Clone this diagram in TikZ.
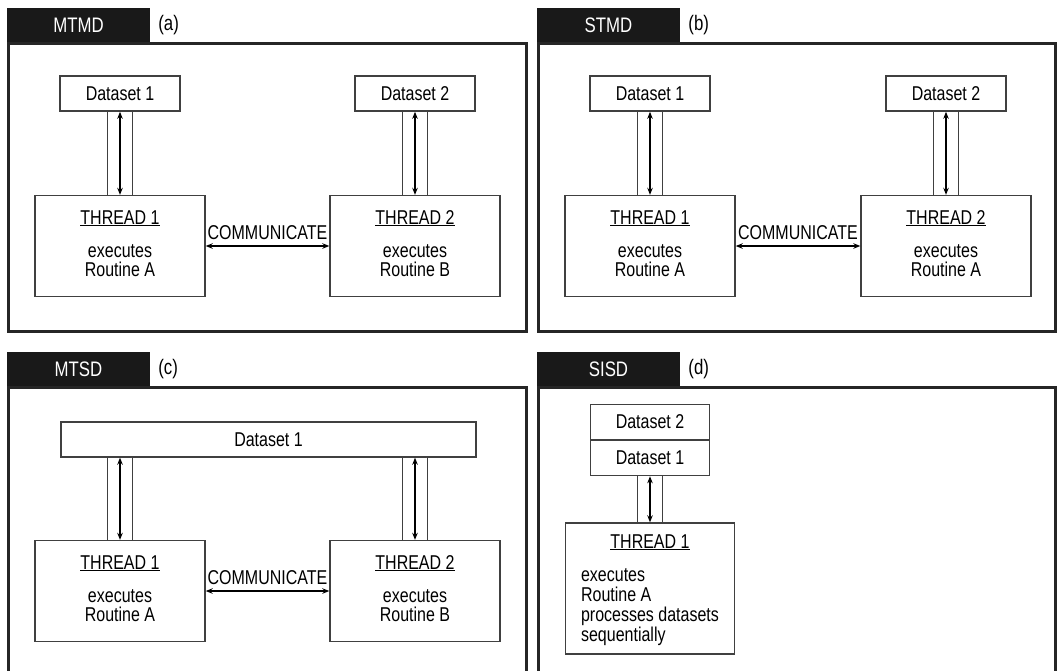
\documentclass[tikz,border=0pt]{standalone}
\usepackage{fontspec}
\setmainfont{Liberation Sans}[FakeStretch=0.8]
\usetikzlibrary{arrows.meta, positioning}

\begin{document}
\begin{tikzpicture}[
    x=1pt, y=-1pt,
    font=\fontsize{20}{19}\selectfont,
    tab/.style={rectangle, fill=black!90, text=white, minimum width=143pt, minimum height=35pt, inner sep=0pt, font=\fontsize{21}{21}\selectfont},
    caption/.style={inner sep=0pt, font=\fontsize{21}{21}\selectfont},
    frame/.style={draw=black!85, line width=3pt},
    dataset/.style={rectangle, draw=black!75, line width=1.4pt, minimum width=120pt, minimum height=35pt, inner sep=0pt},
    thread/.style={rectangle, draw=black!75, line width=1.4pt, minimum width=170pt, minimum height=101pt, inner sep=0pt, align=center},
    pipe/.style={draw=black!75, double distance=24pt, line width=1.2pt},
    link/.style={line width=2pt, {Stealth[length=7pt, width=5.5pt]}-{Stealth[length=7pt, width=5.5pt]}}]
\useasboundingbox (0,0) rectangle (1057,670);

% (a) MTMD
\node (tabA) [tab] at (78.5,25.5) {MTMD};
\node (capA) [caption, right=8pt of tabA] {(a)};
\draw [frame] (8.5,43) rectangle (526,331);
\node (ta1) [thread] at (120,246) {\underline{THREAD 1}\\[14pt]executes\\Routine A\strut};
\node (ta2) [thread] at (415,246) {\underline{THREAD 2}\\[14pt]executes\\Routine B\strut};
\node (da1) [dataset, above=83pt of ta1] {Dataset 1};
\node (da2) [dataset, above=83pt of ta2] {Dataset 2};
\draw [pipe] (da1) -- (ta1);
\draw [pipe] (da2) -- (ta2);
\draw [link] (da1) -- (ta1);
\draw [link] (da2) -- (ta2);
\draw [link] (ta1) -- node[above=2pt] {COMMUNICATE} (ta2);

% (b) STMD
\node (tabB) [tab] at (608.5,25.5) {STMD};
\node (capB) [caption, right=8pt of tabB] {(b)};
\draw [frame] (538.5,43) rectangle (1055,331);
\node (tb1) [thread] at (650,246) {\underline{THREAD 1}\\[14pt]executes\\Routine A\strut};
\node (tb2) [thread] at (946,246) {\underline{THREAD 2}\\[14pt]executes\\Routine A\strut};
\node (db1) [dataset, above=83pt of tb1] {Dataset 1};
\node (db2) [dataset, above=83pt of tb2] {Dataset 2};
\draw [pipe] (db1) -- (tb1);
\draw [pipe] (db2) -- (tb2);
\draw [link] (db1) -- (tb1);
\draw [link] (db2) -- (tb2);
\draw [link] (tb1) -- node[above=2pt] {COMMUNICATE} (tb2);

% (c) MTSD
\node (tabC) [tab] at (78.5,369.5) {MTSD};
\node (capC) [caption, right=8pt of tabC] {(c)};
\draw [frame] (8.5,680) -- (8.5,387) -- (526,387) -- (526,680);
\node (tc1) [thread] at (120,591) {\underline{THREAD 1}\\[14pt]executes\\Routine A\strut};
\node (tc2) [thread] at (415,591) {\underline{THREAD 2}\\[14pt]executes\\Routine B\strut};
\node (dc1) [dataset, minimum width=415pt] at (268.5,439.5) {Dataset 1};
\draw [pipe] (tc1.north |- dc1.south) -- (tc1.north);
\draw [pipe] (tc2.north |- dc1.south) -- (tc2.north);
\draw [link] (tc1.north |- dc1.south) -- (tc1.north);
\draw [link] (tc2.north |- dc1.south) -- (tc2.north);
\draw [link] (tc1) -- node[above=2pt] {COMMUNICATE} (tc2);

% (d) SISD
\node (tabD) [tab] at (608.5,369.5) {SISD};
\node (capD) [caption, right=8pt of tabD] {(d)};
\draw [frame] (538.5,680) -- (538.5,387) -- (1055,387) -- (1055,680);
\node (td1) [thread, minimum width=169pt, minimum height=131pt, font=\fontsize{20}{18}\selectfont] at (650,588.5)
    {\raisebox{-2pt}[\height][\depth]{\begin{tabular}{@{}l@{}}
     \multicolumn{1}{@{}c@{}}{\underline{THREAD 1}}\\[15pt]
     executes\\ Routine A\\ processes datasets\\ sequentially
     \end{tabular}}};
\node (dd1) [dataset, minimum width=119pt, above=46pt of td1] {Dataset 1};
\node (dd2) [dataset, minimum width=119pt, above=0pt of dd1] {Dataset 2};
\draw [pipe] (dd1) -- (td1);
\draw [link] (dd1) -- (td1);
\end{tikzpicture}
\end{document}
